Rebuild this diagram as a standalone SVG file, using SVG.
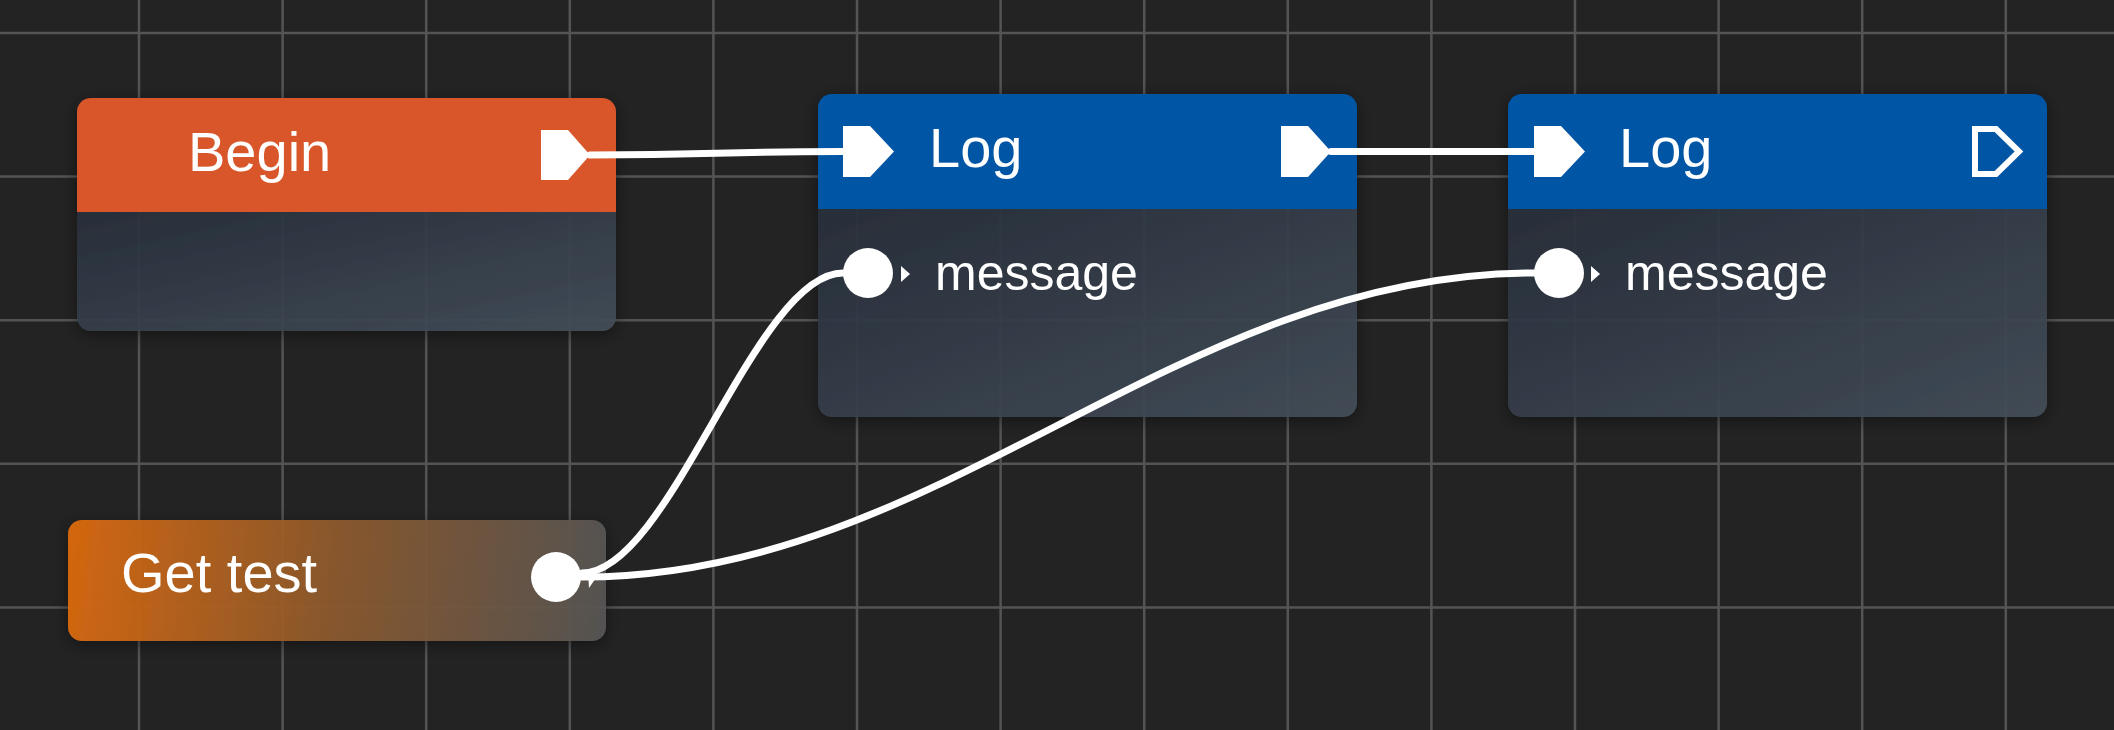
<svg xmlns="http://www.w3.org/2000/svg" width="2114" height="730" viewBox="0 0 2114 730">
  <defs>
    <style>
      .grid line { stroke: #545454; stroke-width: 2.5; }
      .title { font-family: "Liberation Sans", Arial, sans-serif; font-size: 56px; fill: #ffffff; }
      .label { font-family: "Liberation Sans", Arial, sans-serif; font-size: 50px; fill: #ffffff; }
      .pin { fill: #ffffff; }
      .wire { fill: none; stroke: #ffffff; stroke-width: 7; stroke-linecap: round; }
      .hdr-begin { fill: #d8572b; }
      .hdr-log { fill: #0455a5; }
      .body { fill: url(#bodyGrad); }
    </style>
    <linearGradient id="bodyGrad" x1="0" y1="0" x2="1" y2="1">
      <stop offset="0" stop-color="#29303c" stop-opacity="0.9"/>
      <stop offset="1" stop-color="#444f5a" stop-opacity="0.9"/>
    </linearGradient>
    <linearGradient id="getGrad" gradientUnits="userSpaceOnUse" x1="68" y1="560" x2="606" y2="625">
      <stop offset="0" stop-color="#d66810" stop-opacity="0.97"/>
      <stop offset="0.5" stop-color="#8c5a2e" stop-opacity="0.93"/>
      <stop offset="1" stop-color="#575655" stop-opacity="0.93"/>
    </linearGradient>
    <filter id="shadow" x="-10%" y="-20%" width="120%" height="140%">
      <feDropShadow dx="0" dy="4" stdDeviation="8" flood-color="#000000" flood-opacity="0.45"/>
    </filter>
  </defs>

  <rect x="0" y="0" width="2114" height="730" fill="#232323"/>

  <g class="grid" id="grid">
    <line x1="139" y1="0" x2="139" y2="730"/>
    <line x1="282.6" y1="0" x2="282.6" y2="730"/>
    <line x1="426.2" y1="0" x2="426.2" y2="730"/>
    <line x1="569.8" y1="0" x2="569.8" y2="730"/>
    <line x1="713.4" y1="0" x2="713.4" y2="730"/>
    <line x1="857" y1="0" x2="857" y2="730"/>
    <line x1="1000.6" y1="0" x2="1000.6" y2="730"/>
    <line x1="1144.2" y1="0" x2="1144.2" y2="730"/>
    <line x1="1287.8" y1="0" x2="1287.8" y2="730"/>
    <line x1="1431.4" y1="0" x2="1431.4" y2="730"/>
    <line x1="1575" y1="0" x2="1575" y2="730"/>
    <line x1="1718.6" y1="0" x2="1718.6" y2="730"/>
    <line x1="1862.2" y1="0" x2="1862.2" y2="730"/>
    <line x1="2005.8" y1="0" x2="2005.8" y2="730"/>
    <line x1="0" y1="33" x2="2114" y2="33"/>
    <line x1="0" y1="176.6" x2="2114" y2="176.6"/>
    <line x1="0" y1="320.2" x2="2114" y2="320.2"/>
    <line x1="0" y1="463.8" x2="2114" y2="463.8"/>
    <line x1="0" y1="607.4" x2="2114" y2="607.4"/>
  </g>

  <g id="node-begin" filter="url(#shadow)">
    <path class="hdr-begin" d="M77,112 a14,14 0 0 1 14,-14 h511 a14,14 0 0 1 14,14 v100 h-539 z"/>
    <path class="body" d="M77,212 h539 v105 a14,14 0 0 1 -14,14 h-511 a14,14 0 0 1 -14,-14 z"/>
    <text class="title" x="188" y="171">Begin</text>
    <polygon class="pin" points="541,130 568,130 590,155 568,180 541,180"/>
  </g>

  <g id="node-log1" filter="url(#shadow)">
    <path class="hdr-log" d="M818,108 a14,14 0 0 1 14,-14 h511 a14,14 0 0 1 14,14 v101 h-539 z"/>
    <path class="body" d="M818,209 h539 v194 a14,14 0 0 1 -14,14 h-511 a14,14 0 0 1 -14,-14 z"/>
    <text class="title" x="929" y="167">Log</text>
    <polygon class="pin" points="843,126 870,126 894,151.5 870,177 843,177"/>
    <polygon class="pin" points="1281,126 1308,126 1331,151.5 1308,177 1281,177"/>
    <circle class="pin" cx="868" cy="273" r="25"/>
    <polygon class="pin" points="901,266 910,274 901,282"/>
    <text class="label" x="935" y="290">message</text>
  </g>

  <g id="node-log2" filter="url(#shadow)">
    <path class="hdr-log" d="M1508,108 a14,14 0 0 1 14,-14 h511 a14,14 0 0 1 14,14 v101 h-539 z"/>
    <path class="body" d="M1508,209 h539 v194 a14,14 0 0 1 -14,14 h-511 a14,14 0 0 1 -14,-14 z"/>
    <text class="title" x="1619" y="167">Log</text>
    <polygon class="pin" points="1534,126 1561,126 1585,151.5 1561,177 1534,177"/>
    <polygon points="1975,129 1996,129 2019,151.5 1996,174 1975,174" fill="none" stroke="#ffffff" stroke-width="6"/>
    <circle class="pin" cx="1559" cy="273" r="25"/>
    <polygon class="pin" points="1591,266 1600,274 1591,282"/>
    <text class="label" x="1625" y="290">message</text>
  </g>

  <g id="node-gettest" filter="url(#shadow)">
    <rect x="68" y="520" width="538" height="121" rx="14" ry="14" fill="url(#getGrad)"/>
    <text class="title" x="121" y="592">Get test</text>
  </g>

  <g id="connectors">
    <path class="wire" d="M590,155 C716,155 717,151.5 843,151.5"/>
    <path class="wire" d="M1331,151.5 L1534,151.5"/>
    <path class="wire" d="M582,573 C670,573 755,273 843,273"/>
    <path class="wire" d="M582,577 C942,577 1174,273 1534,273"/>
    <polygon class="pin" points="588,572 598,575 589,588"/>
  </g>

  <g id="node-gettest-pin">
    <circle class="pin" cx="556" cy="577" r="25"/>
  </g>
</svg>
